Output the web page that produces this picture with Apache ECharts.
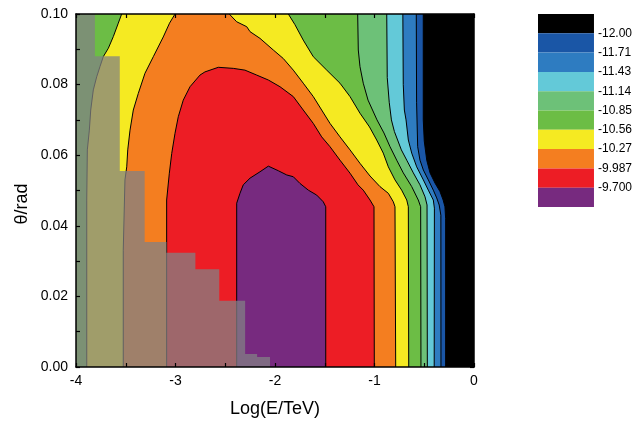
<!DOCTYPE html>
<html><head><meta charset="utf-8">
<script src="https://cdn.jsdelivr.net/npm/echarts@6/dist/echarts.min.js"></script>
<style>html,body{margin:0;padding:0;background:#fff}#c{width:635px;height:423px}</style>
</head><body><div id="c"></div>
<script>
// ---- contour levels (legend, top = lowest) ----
const levelLabels = ['-12.00','-11.71','-11.43','-11.14','-10.85','-10.56','-10.27','-9.987','-9.700'];
const levelColors = ['#000000','#1a56a6','#2e7cc1','#63c9d8','#6dc178','#6cbd45','#f5ea22','#f47e20','#ed1d25','#772a7f'];

// ---- contour boundary curves [logE, theta] ----
const c1200 = [[-0.51,0.1],[-0.51,0.070],[-0.50,0.064],[-0.475,0.0586],[-0.442,0.055],[-0.392,0.0521],[-0.342,0.0497],[-0.31,0.0473],[-0.292,0.0454],[-0.285,0.042],[-0.285,0]];
const c1171 = [[-0.58,0.1],[-0.577,0.075],[-0.566,0.0624],[-0.543,0.0586],[-0.509,0.0558],[-0.459,0.053],[-0.409,0.0501],[-0.375,0.0479],[-0.35,0.0459],[-0.333,0.043],[-0.332,0]];
const c1143 = [[-0.715,0.1],[-0.711,0.08],[-0.70,0.0728],[-0.683,0.070],[-0.66,0.0643],[-0.626,0.0606],[-0.576,0.0567],[-0.509,0.053],[-0.459,0.0501],[-0.409,0.0473],[-0.398,0.045],[-0.40,0]];
const c1114 = [[-0.877,0.1],[-0.872,0.082],[-0.852,0.075],[-0.83,0.070],[-0.80,0.0667],[-0.73,0.0615],[-0.676,0.0586],[-0.61,0.055],[-0.543,0.0516],[-0.492,0.0482],[-0.472,0.0459],[-0.469,0]];
const c1085 = [[-1.169,0.1],[-1.163,0.0898],[-1.146,0.0851],[-1.113,0.0804],[-1.065,0.0756],[-0.975,0.070],[-0.905,0.0663],[-0.844,0.0624],[-0.777,0.0586],[-0.711,0.055],[-0.626,0.0511],[-0.56,0.0473],[-0.536,0.0454],[-0.533,0]];
const c1056Left = [[-3.541,0.1],[-3.575,0.0974],[-3.625,0.0936],[-3.675,0.0903],[-3.726,0.0879],[-3.759,0.0851],[-3.792,0.0822],[-3.826,0.0785],[-3.852,0.0728],[-3.866,0.0671],[-3.886,0.0615],[-3.892,0.0473],[-3.892,0]];
const c1056Right = [[-1.866,0.1],[-1.80,0.097],[-1.716,0.0926],[-1.615,0.0879],[-1.48,0.0841],[-1.347,0.0804],[-1.246,0.0766],[-1.146,0.0719],[-1.05,0.068],[-0.978,0.0643],[-0.912,0.0606],[-0.861,0.0567],[-0.794,0.053],[-0.727,0.0501],[-0.676,0.0473],[-0.66,0.0454],[-0.656,0]];
const c1027Left = [[-3.005,0.1],[-3.06,0.0974],[-3.123,0.0935],[-3.223,0.0879],[-3.307,0.0832],[-3.374,0.0775],[-3.424,0.0728],[-3.457,0.0671],[-3.48,0.0615],[-3.49,0.0567],[-3.508,0.053],[-3.525,0.0331],[-3.525,0]];
const c1027Right = [[-2.46,0.1],[-2.385,0.0978],[-2.284,0.0964],[-2.251,0.095],[-2.151,0.0931],[-2.017,0.0898],[-1.917,0.0874],[-1.816,0.0841],[-1.716,0.0804],[-1.615,0.0766],[-1.531,0.0728],[-1.447,0.069],[-1.347,0.0652],[-1.246,0.0615],[-1.146,0.0577],[-1.045,0.0541],[-0.945,0.0511],[-0.861,0.0492],[-0.811,0.0468],[-0.794,0.0454],[-0.787,0]];
const c0999 = [[-3.089,0],[-3.089,0.0473],[-3.062,0.0549],[-3.038,0.0605],[-3.005,0.0662],[-2.972,0.0709],[-2.922,0.0756],[-2.854,0.0794],[-2.754,0.0827],[-2.704,0.0836],[-2.57,0.0849],[-2.419,0.0846],[-2.302,0.0841],[-2.184,0.0827],[-2.067,0.0813],[-1.95,0.0794],[-1.816,0.0766],[-1.716,0.0728],[-1.615,0.069],[-1.531,0.0652],[-1.447,0.0624],[-1.347,0.0586],[-1.246,0.0549],[-1.166,0.0516],[-1.113,0.0501],[-1.045,0.0473],[-1.005,0.0454],[-1.002,0]];
const c0970 = [[-2.385,0],[-2.385,0.0464],[-2.352,0.0492],[-2.319,0.0516],[-2.251,0.0535],[-2.151,0.0553],[-2.067,0.0569],[-1.967,0.0556],[-1.882,0.0544],[-1.816,0.0539],[-1.749,0.052],[-1.665,0.0501],[-1.581,0.0487],[-1.515,0.0468],[-1.49,0.0454],[-1.49,0]];

// ---- shaded (grey) overlay: step edges and heights ----
const overlayX = [-4, -3.81, -3.56, -3.31, -3.09, -2.80, -2.56, -2.30, -2.18, -2.05];
const overlayTop = [0.1, 0.088, 0.0555, 0.0354, 0.0324, 0.0277, 0.0188, 0.0037, 0.0028];

// ---- axes ----
const X_MIN = -4, X_MAX = 0, Y_MIN = 0, Y_MAX = 0.1;

const FONT = "'Liberation Sans', Arial, Helvetica, sans-serif";
const rev = a => a.slice().reverse();
const leftOf = c => [[X_MIN, Y_MIN], [X_MIN, Y_MAX]].concat(c);

const fillRegions = [
  { color: levelColors[0], pts: [[X_MIN,Y_MIN],[X_MIN,Y_MAX],[X_MAX,Y_MAX],[X_MAX,Y_MIN]] },
  { color: levelColors[1], pts: leftOf(c1200) },
  { color: levelColors[2], pts: leftOf(c1171) },
  { color: levelColors[3], pts: leftOf(c1143) },
  { color: levelColors[4], pts: leftOf(c1114) },
  { color: levelColors[5], pts: leftOf(c1085) },
  { color: levelColors[6], pts: rev(c1056Left).concat(c1056Right) },
  { color: levelColors[7], pts: rev(c1027Left).concat(c1027Right) },
  { color: levelColors[8], pts: c0999 },
  { color: levelColors[9], pts: c0970 }
];
const contourLines = [c1200, c1171, c1143, c1114, c1085, c1056Left, c1056Right, c1027Left, c1027Right, c0999, c0970];

const overlayPts = [[overlayX[0], Y_MIN]];
overlayTop.forEach((t, i) => { overlayPts.push([overlayX[i], t]); overlayPts.push([overlayX[i+1], t]); });
overlayPts.push([overlayX[overlayX.length-1], Y_MIN]);

const chart = echarts.init(document.getElementById('c'), null, { renderer: 'canvas' });

const mainAxisCommon = {
  z: 10,
  axisLine: { show: true, onZero: false, lineStyle: { color: '#000', width: 1.5 } },
  axisTick: { show: true, inside: true, length: 4, lineStyle: { color: '#000', width: 1.2 } },
  splitLine: { show: false }
};

chart.setOption({
  animation: false,
  backgroundColor: '#fff',
  grid: [
    { left: 76, top: 14, width: 398, height: 353, show: false },
    { left: 538, top: 14, width: 59, height: 193, show: false }
  ],
  xAxis: [
    Object.assign({}, mainAxisCommon, {
      type: 'value', gridIndex: 0, min: X_MIN, max: X_MAX, interval: 0.5, position: 'bottom',
      name: 'Log(E/TeV)', nameLocation: 'middle', nameGap: 33,
      nameTextStyle: { fontFamily: FONT, fontSize: 18, color: '#000' },
      axisLabel: { show: true, interval: 0, margin: 7, showMinLabel: true, showMaxLabel: true,
        fontFamily: FONT, fontSize: 14, color: '#000',
        formatter: v => (Math.abs(v - Math.round(v)) < 1e-9 ? String(Math.round(v)) : '') }
    }),
    Object.assign({}, mainAxisCommon, {
      type: 'value', gridIndex: 0, min: X_MIN, max: X_MAX, interval: 0.5, position: 'top',
      axisLabel: { show: false }
    }),
    { type: 'value', gridIndex: 1, min: 0, max: 1, show: false }
  ],
  yAxis: [
    Object.assign({}, mainAxisCommon, {
      type: 'value', gridIndex: 0, min: Y_MIN, max: Y_MAX, interval: 0.01, position: 'left',
      axisLabel: { show: true, interval: 0, margin: 8, showMinLabel: true, showMaxLabel: true,
        fontFamily: FONT, fontSize: 14, color: '#000',
        formatter: v => (Math.round(v * 100) % 2 === 0 ? v.toFixed(2) : '') }
    }),
    Object.assign({}, mainAxisCommon, {
      type: 'value', gridIndex: 0, min: Y_MIN, max: Y_MAX, interval: 0.01, position: 'right',
      axisLabel: { show: false }
    }),
    {
      type: 'value', gridIndex: 1, min: 0, max: levelColors.length, interval: 1, inverse: true, position: 'right',
      axisLine: { show: false }, axisTick: { show: false }, splitLine: { show: false },
      axisLabel: { show: true, interval: 0, margin: 4, fontFamily: FONT, fontSize: 12, color: '#000',
        formatter: v => levelLabels[v - 1] || '' }
    }
  ],
  graphic: [
    { type: 'text', x: 22, y: 204, rotation: Math.PI / 2,
      style: { text: 'θ/rad', font: '18px ' + FONT, fill: '#000', align: 'center', verticalAlign: 'middle' } }
  ],
  series: [
    {
      type: 'custom', name: 'fills', xAxisIndex: 0, yAxisIndex: 0, clip: true, z: 2,
      data: fillRegions.map((r, i) => [i]),
      renderItem: (params, api) => {
        const r = fillRegions[params.dataIndex];
        return { type: 'polygon', shape: { points: r.pts.map(p => api.coord(p)) },
          style: { fill: r.color, stroke: null } };
      }
    },
    {
      type: 'custom', name: 'lines', xAxisIndex: 0, yAxisIndex: 0, clip: true, z: 3,
      data: contourLines.map((c, i) => [i]),
      renderItem: (params, api) => {
        const c = contourLines[params.dataIndex];
        return { type: 'polyline', shape: { points: c.map(p => api.coord(p)) },
          style: { stroke: '#000', lineWidth: 1, fill: 'none' } };
      }
    },
    {
      type: 'custom', name: 'overlay', xAxisIndex: 0, yAxisIndex: 0, clip: true, z: 4,
      data: [[0]],
      renderItem: (params, api) => ({
        type: 'polygon', shape: { points: overlayPts.map(p => api.coord(p)) },
        style: { fill: 'rgba(130,130,132,0.74)', stroke: null }
      })
    },
    {
      type: 'custom', name: 'legend', xAxisIndex: 2, yAxisIndex: 2, clip: false, z: 2,
      data: levelColors.map((c, i) => [i]),
      renderItem: (params, api) => {
        const i = params.dataIndex;
        const p0 = api.coord([0, i]);
        const p1 = api.coord([1, i + 1]);
        return { type: 'rect', shape: { x: p0[0], y: p0[1], width: p1[0] - p0[0], height: p1[1] - p0[1] },
          style: { fill: levelColors[i], stroke: null } };
      }
    }
  ]
});
</script>
</body></html>
